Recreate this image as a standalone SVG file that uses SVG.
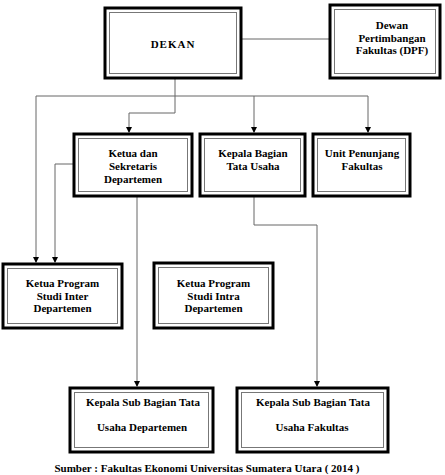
<svg xmlns="http://www.w3.org/2000/svg" width="445" height="475" viewBox="0 0 445 475">
<style>
.o{fill:#fff;stroke:#000;stroke-width:3}
.i{fill:none;stroke:#777;stroke-width:1}
.t{font-family:"Liberation Serif","Times New Roman",serif;font-weight:bold;font-size:11px;fill:#000;text-anchor:middle}
.c{fill:none;stroke:#666;stroke-width:1}
</style>
<defs>
<marker id="a" markerWidth="6" markerHeight="6" refX="5" refY="3" orient="auto" markerUnits="userSpaceOnUse">
<path d="M0,0 L6,3 L0,6 Z" fill="#000"/>
</marker>
</defs>
<rect width="445" height="475" fill="#fff"/>
<g id="connectors">
<path class="c" d="M241,39 H329"/>
<path class="c" d="M175,78 V113 H129 V132" marker-end="url(#a)"/>
<path class="c" d="M36,96 H368"/>
<path class="c" d="M254,96 V132" marker-end="url(#a)"/>
<path class="c" d="M368,96 V132" marker-end="url(#a)"/>
<path class="c" d="M36,96 V262" marker-end="url(#a)"/>
<path class="c" d="M73,164 H55 V262" marker-end="url(#a)"/>
<path class="c" d="M137,197 V386" marker-end="url(#a)"/>
<path class="c" d="M254,197 V225 H317 V386" marker-end="url(#a)"/>
</g>
<g id="dekan">
<rect class="o" x="105" y="8" width="136" height="70"/>
<rect class="i" x="109.5" y="12.5" width="127" height="61"/>
<text class="t" x="173" y="48" letter-spacing="1">DEKAN</text>
</g>
<g id="dpf">
<rect class="o" x="330" y="5" width="110" height="73"/>
<rect class="i" x="334.5" y="9.5" width="101" height="64"/>
<text class="t" x="392" y="29">Dewan</text>
<text class="t" x="392" y="41.5">Pertimbangan</text>
<text class="t" x="392" y="54">Fakultas (DPF)</text>
</g>
<g id="ketua-sekretaris">
<rect class="o" x="74" y="134" width="118" height="62"/>
<rect class="i" x="78.5" y="138.5" width="109" height="53"/>
<text class="t" x="133" y="157">Ketua dan</text>
<text class="t" x="133" y="170">Sekretaris</text>
<text class="t" x="133" y="183">Departemen</text>
</g>
<g id="kepala-bagian">
<rect class="o" x="200" y="134" width="105" height="62"/>
<rect class="i" x="204.5" y="138.5" width="96" height="53"/>
<text class="t" x="253" y="157">Kepala Bagian</text>
<text class="t" x="253" y="170">Tata Usaha</text>
</g>
<g id="unit-penunjang">
<rect class="o" x="313" y="134" width="97" height="62"/>
<rect class="i" x="317.5" y="138.5" width="88" height="53"/>
<text class="t" x="362" y="157">Unit Penunjang</text>
<text class="t" x="362" y="170">Fakultas</text>
</g>
<g id="ketua-inter">
<rect class="o" x="3" y="264" width="119" height="64"/>
<rect class="i" x="7.5" y="268.5" width="110" height="55"/>
<text class="t" x="62.5" y="287">Ketua Program</text>
<text class="t" x="62.5" y="299.5">Studi Inter</text>
<text class="t" x="62.5" y="312">Departemen</text>
</g>
<g id="ketua-intra">
<rect class="o" x="154" y="263" width="119" height="65"/>
<rect class="i" x="158.5" y="267.5" width="110" height="56"/>
<text class="t" x="213.5" y="287">Ketua Program</text>
<text class="t" x="213.5" y="299.5">Studi Intra</text>
<text class="t" x="213.5" y="312">Departemen</text>
</g>
<g id="sub-departemen">
<rect class="o" x="70" y="388" width="143" height="64"/>
<rect class="i" x="74.5" y="392.5" width="134" height="55"/>
<text class="t" x="143" y="406">Kepala Sub Bagian Tata</text>
<text class="t" x="142" y="431">Usaha Departemen</text>
</g>
<g id="sub-fakultas">
<rect class="o" x="237" y="388" width="151" height="64"/>
<rect class="i" x="241.5" y="392.5" width="142" height="55"/>
<text class="t" x="313" y="406">Kepala Sub Bagian Tata</text>
<text class="t" x="312" y="431">Usaha Fakultas</text>
</g>
<text class="t" x="207" y="472">Sumber : Fakultas Ekonomi Universitas Sumatera Utara ( 2014 )</text>
</svg>
